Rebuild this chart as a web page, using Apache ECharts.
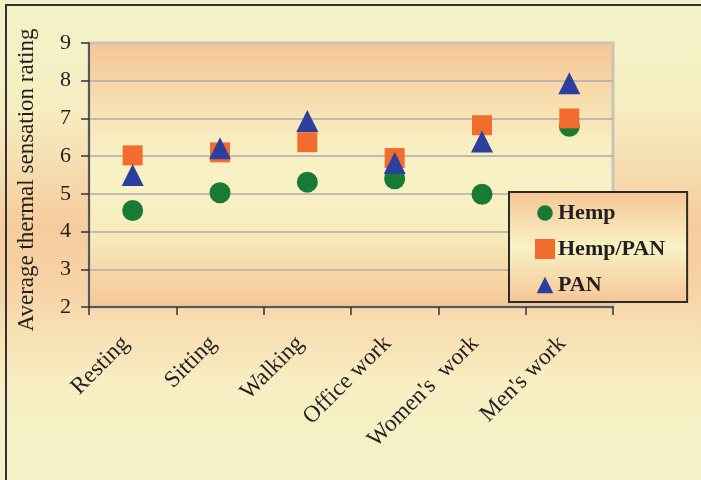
<!DOCTYPE html>
<html>
<head>
<meta charset="utf-8">
<script src="https://cdn.jsdelivr.net/npm/echarts@6/dist/echarts.min.js"></script>
<style>
  html, body { margin: 0; padding: 0; }
  #chart { width: 701px; height: 480px; }
</style>
</head>
<body>
<div id="chart"></div>
<script>
// Activities on the category axis
const activities = ['Resting', 'Sitting', 'Walking', 'Office work', "Women's  work", "Men's work"];
// Average thermal sensation rating per fabric
const hemp    = [4.56, 5.03, 5.31, 5.40, 4.99, 6.79];
const hempPan = [6.02, 6.10, 6.37, 5.95, 6.82, 7.00];
const pan     = [5.50, 6.21, 6.93, 5.82, 6.39, 7.93];
const yTicks  = [2, 3, 4, 5, 6, 7, 8, 9];

const serif = '"Liberation Serif", "Times New Roman", serif';
const ink = '#231F20';

function vGrad(stops) {
  return { type: 'linear', x: 0, y: 0, x2: 0, y2: 1,
    colorStops: stops.map(s => ({ offset: s[0], color: s[1] })) };
}

// legend icons: the outer points only set the icon box, the shape sits inside it
const legendCircle = 'path://M0 0 Z M20 20 Z M10 2.2 A7.8 7.8 0 1 1 10 17.8 A7.8 7.8 0 1 1 10 2.2 Z';
const legendTriangle = 'path://M0 0 Z M20 20 Z M10 1.7 L18.3 18.3 L1.7 18.3 Z';

const chart = echarts.init(document.getElementById('chart'), null, { renderer: 'canvas' });
chart.setOption({
  animation: false,
  backgroundColor: vGrad([[0, '#F4F2C8'], [0.22, '#F6EEC2'], [0.47, '#F6CC9D'], [0.6, '#F7D3A5'], [0.8, '#F8EEC3'], [1, '#F3F2C8']]),
  graphic: [{
    type: 'polyline',
    shape: { points: [[6, 480], [6, 5], [701, 5]] },
    style: { stroke: '#333333', lineWidth: 2, fill: null },
    z: 100
  }],
  grid: {
    left: 89, top: 43, width: 524, height: 264,
    outerBoundsMode: 'none',
    containLabel: false,
    show: true,
    backgroundColor: vGrad([[0, '#F6C595'], [0.38, '#F8EEC0'], [0.5, '#F8F2C6'], [0.7, '#F8EDBF'], [1, '#F6C595']]),
    borderColor: '#C9C4BA',
    borderWidth: 3
  },
  legend: {
    orient: 'vertical',
    left: 509, top: 192,
    itemWidth: 20, itemHeight: 20, itemGap: 14,
    padding: [10, 22, 6, 26],
    backgroundColor: vGrad([[0, '#F6C595'], [0.5, '#F8F2C6'], [1, '#F6C595']]),
    borderColor: '#2A2A2A',
    borderWidth: 2,
    textStyle: { fontFamily: serif, fontSize: 22, fontWeight: 'bold', color: ink, padding: [0, 0, 0, -2] },
    data: [
      { name: 'Hemp', icon: legendCircle },
      { name: 'Hemp/PAN', icon: 'rect' },
      { name: 'PAN', icon: legendTriangle }
    ]
  },
  xAxis: {
    type: 'category',
    data: activities,
    boundaryGap: true,
    axisLine: { lineStyle: { color: '#333333', width: 1.5 } },
    axisTick: { show: true, length: 8, lineStyle: { color: '#333333', width: 1.5 } },
    axisLabel: { rotate: 45, margin: 26, interval: 0, fontFamily: serif, fontSize: 23.5, color: ink, padding: [0, 10, 0, 0] },
    splitLine: { show: false }
  },
  yAxis: {
    type: 'value',
    min: 2, max: 9, interval: 1,
    name: 'Average thermal sensation rating',
    nameLocation: 'middle',
    nameGap: 51,
    nameTextStyle: { fontFamily: serif, fontSize: 23, color: ink, padding: [0, 10, 0, 0] },
    axisLine: { show: true, lineStyle: { color: '#333333', width: 1.5 } },
    axisTick: { show: true, length: 8, lineStyle: { color: '#333333', width: 1.5 } },
    axisLabel: {
      margin: 18, fontFamily: serif, fontSize: 22, color: ink,
      formatter: v => (yTicks.indexOf(v) >= 0 ? String(v) : '')
    },
    splitLine: { show: true, showMaxLine: false, showMinLine: false, lineStyle: { color: '#ABABAB', width: 1.5 } }
  },
  series: [
    { name: 'Hemp', type: 'scatter', data: hemp, symbol: 'circle', symbolSize: 21,
      itemStyle: { color: '#187A35', opacity: 1 } },
    { name: 'Hemp/PAN', type: 'scatter', data: hempPan, symbol: 'rect', symbolSize: 20,
      itemStyle: { color: '#F26C2D', opacity: 1 } },
    { name: 'PAN', type: 'scatter', data: pan, symbol: 'triangle', symbolSize: 22,
      itemStyle: { color: '#2C3F9C', opacity: 1 } }
  ]
});
</script>
</body>
</html>
